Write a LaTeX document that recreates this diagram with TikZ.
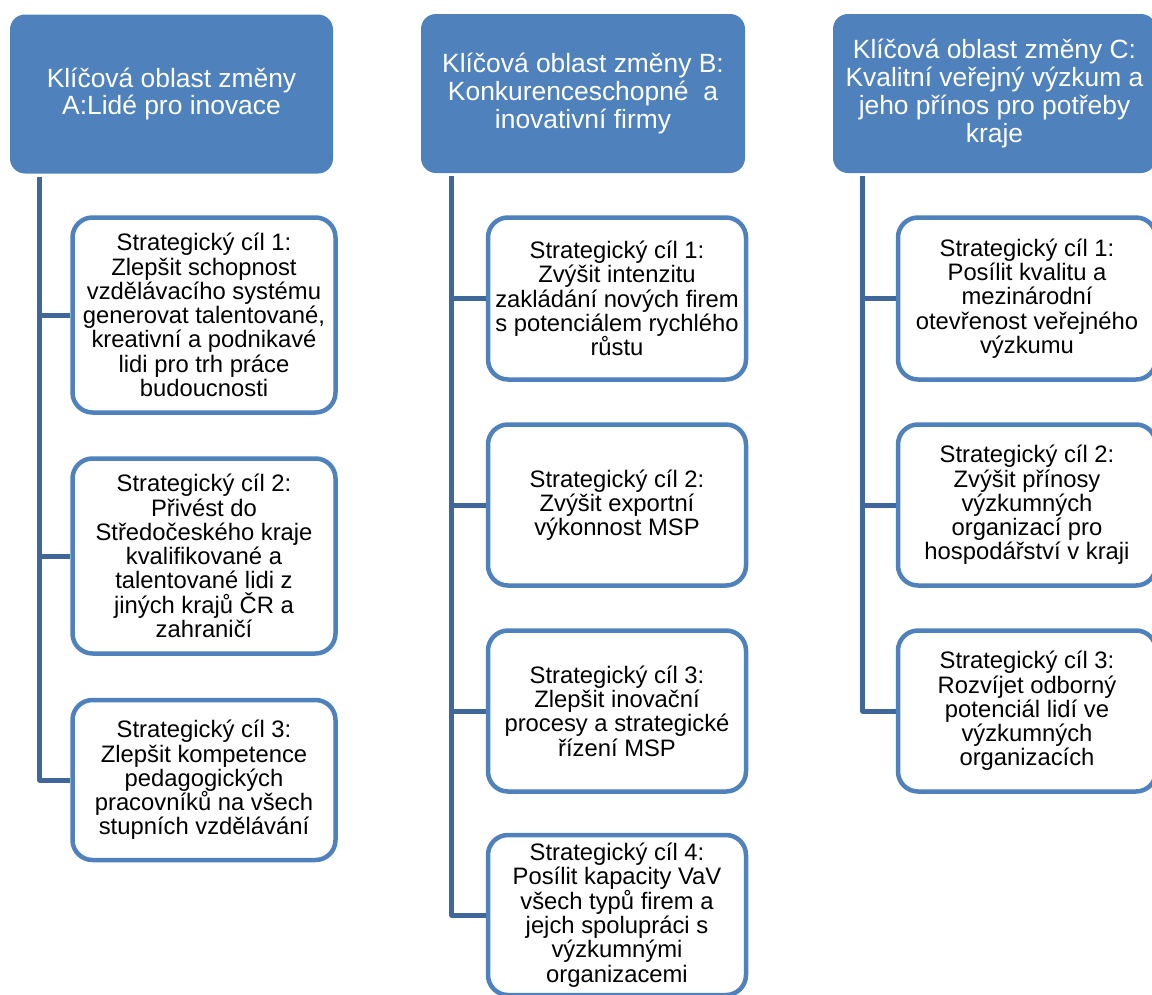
\documentclass[tikz,border=0pt]{standalone}
\usepackage{fontspec}
\setmainfont{Liberation Sans}
\definecolor{hblue}{HTML}{4F81BD}
\definecolor{cblue}{HTML}{3F679A}
\newcommand\hdrfont{\fontsize{26.4}{27.8}\selectfont}
\newcommand\goalfont{\fontsize{23.8}{24.3}\selectfont}
\begin{document}
\begin{tikzpicture}[x=1pt,y=-1pt,
  hdr/.style={rectangle, rounded corners=15pt, fill=hblue, draw=none, text=white,
    font=\hdrfont, align=center, inner sep=0pt, minimum height=159pt},
  goal/.style={rectangle, rounded corners=20pt, draw=hblue, line width=4.5pt, fill=white,
    font=\goalfont, align=center, inner sep=0pt},
  conn/.style={draw=cblue, line width=5pt, line join=round}]
\useasboundingbox (0,0) rectangle (1152,994);
% headers
\node[hdr, minimum width=323pt] (hA) at (171.5,94) {Klíčová oblast změny\\A:Lidé pro inovace};
\node[hdr, minimum width=324pt] (hB) at (583,93.5) {Klíčová oblast změny B:\\Konkurenceschopné~ a\\inovativní firmy};
\node[hdr, minimum width=323pt] (hC) at (994.5,93.5) {Klíčová oblast změny C:\\Kvalitní veřejný výzkum a\\jeho přínos pro potřeby\\kraje};
% column A
\node[goal, minimum width=263pt, minimum height=195pt] (a1) at (204,315) {Strategický cíl 1:\\Zlepšit schopnost\\vzdělávacího systému\\generovat talentované,\\kreativní a podnikavé\\lidi pro trh práce\\budoucnosti};
\node[goal, minimum width=263pt, minimum height=195pt] (a2) at (204,556) {Strategický cíl 2:\\Přivést do\\Středočeského kraje\\kvalifikované a\\talentované lidi z\\jiných krajů ČR a\\zahraničí};
\node[goal, minimum width=263pt, minimum height=160pt] (a3) at (204,780) {Strategický cíl 3:\\Zlepšit kompetence\\pedagogických\\pracovníků na všech\\stupních vzdělávání};
% column B
\node[goal, minimum width=258pt, minimum height=162pt] (b1) at (617,298.5) {Strategický cíl 1:\\Zvýšit intenzitu\\zakládání nových firem\\s potenciálem rychlého\\růstu};
\node[goal, minimum width=258pt, minimum height=161pt] (b2) at (617,505) {Strategický cíl 2:\\Zvýšit exportní\\výkonnost MSP};
\node[goal, minimum width=258pt, minimum height=161pt] (b3) at (617,711) {Strategický cíl 3:\\Zlepšit inovační\\procesy a strategické\\řízení MSP};
\node[goal, minimum width=258pt, minimum height=160pt] (b4) at (617,915) {Strategický cíl 4:\\Posílit kapacity VaV\\všech typů firem a\\jejch spolupráci s\\výzkumnými\\organizacemi};
% column C
\node[goal, minimum width=258pt, minimum height=162pt] (c1) at (1027,298.5) {Strategický cíl 1:\\Posílit kvalitu a\\mezinárodní\\otevřenost veřejného\\výzkumu};
\node[goal, minimum width=258pt, minimum height=161pt] (c2) at (1027,505) {Strategický cíl 2:\\Zvýšit přínosy\\výzkumných\\organizací pro\\hospodářství v kraji};
\node[goal, minimum width=258pt, minimum height=161pt] (c3) at (1027,711) {Strategický cíl 3:\\Rozvíjet odborný\\potenciál lidí ve\\výzkumných\\organizacích};
% connectors
\coordinate (sA) at ([xshift=30pt,yshift=-3pt]hA.south west);
\coordinate (sB) at ([xshift=31pt,yshift=-3pt]hB.south west);
\coordinate (sC) at ([xshift=30pt,yshift=-3pt]hC.south west);
\foreach \n in {a1,a2,a3} \draw[conn] (sA) |- (\n.west);
\foreach \n in {b1,b2,b3,b4} \draw[conn] (sB) |- (\n.west);
\foreach \n in {c1,c2,c3} \draw[conn] (sC) |- (\n.west);
\end{tikzpicture}
\end{document}
